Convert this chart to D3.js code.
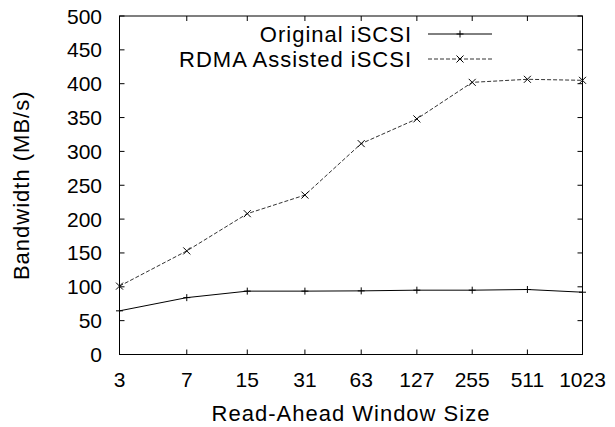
<!DOCTYPE html>
<html><head><meta charset="utf-8">
<script src="https://cdn.jsdelivr.net/npm/d3@7"></script>
<style>body{margin:0;background:#fff}text{font-family:"Liberation Sans",Arial,sans-serif;fill:#000}.w{letter-spacing:1px}</style>
</head><body>
<svg id="c" width="615" height="427"></svg>
<script>
const windowSizes = [3, 7, 15, 31, 63, 127, 255, 511, 1023];
const originalISCSI = [64.5, 84, 93.6, 93.6, 94, 95, 95, 96, 92];
const rdmaISCSI = [101, 153, 208, 235.5, 311.5, 348, 402, 406.5, 405];
const yTicks = [0, 50, 100, 150, 200, 250, 300, 350, 400, 450, 500];
const seriesNames = ["Original iSCSI", "RDMA Assisted iSCSI"];

const W = 615, H = 427;
const m = {left: 119.5, right: 32.5, top: 16, bottom: 72.5};
const svg = d3.select("#c");
const x = d3.scaleLog().domain([3, 1023]).range([m.left, W - m.right]);
const y = d3.scaleLinear().domain([0, 500]).range([H - m.bottom, m.top]);
const fs = 21, fw = 22, tl = 5;

const g = svg.append("g");
g.append("rect").attr("x", x.range()[0]).attr("y", y.range()[1])
  .attr("width", x.range()[1] - x.range()[0]).attr("height", y.range()[0] - y.range()[1])
  .attr("fill", "none").attr("stroke", "#000").attr("stroke-width", 1);

windowSizes.forEach(v => {
  const px = x(v);
  g.append("line").attr("x1", px).attr("x2", px).attr("y1", y(0)).attr("y2", y(0) - tl).attr("stroke", "#000");
  g.append("line").attr("x1", px).attr("x2", px).attr("y1", y(500)).attr("y2", y(500) + tl).attr("stroke", "#000");
  g.append("text").attr("x", px).attr("y", 387).attr("text-anchor", "middle").attr("font-size", fs).text(v);
});
yTicks.forEach(v => {
  const py = y(v);
  g.append("line").attr("x1", x(3)).attr("x2", x(3) + tl).attr("y1", py).attr("y2", py).attr("stroke", "#000");
  g.append("line").attr("x1", x(1023)).attr("x2", x(1023) - tl).attr("y1", py).attr("y2", py).attr("stroke", "#000");
  g.append("text").attr("x", 102).attr("y", py + 7.5).attr("text-anchor", "end").attr("font-size", fs).text(v);
});
g.append("text").attr("class", "w").attr("x", (x.range()[0] + x.range()[1]) / 2).attr("y", 421)
  .attr("text-anchor", "middle").attr("font-size", fw).text("Read-Ahead Window Size");
g.append("text").attr("class", "w").attr("transform", `translate(29,${(y.range()[0] + y.range()[1]) / 2}) rotate(-90)`)
  .attr("text-anchor", "middle").attr("font-size", fw).text("Bandwidth (MB/s)");

const line = d3.line().x(d => x(d[0])).y(d => y(d[1]));
const d1 = windowSizes.map((w, i) => [w, originalISCSI[i]]);
const d2 = windowSizes.map((w, i) => [w, rdmaISCSI[i]]);
const ms = 3.5;
function plus(sel, px, py, col) {
  sel.append("path").attr("d", `M${px - ms},${py}H${px + ms}M${px},${py - ms}V${py + ms}`).attr("stroke", col).attr("fill", "none");
}
function cross(sel, px, py, col) {
  sel.append("path").attr("d", `M${px - ms},${py - ms}L${px + ms},${py + ms}M${px - ms},${py + ms}L${px + ms},${py - ms}`).attr("stroke", col).attr("fill", "none");
}
g.append("path").datum(d1).attr("d", line).attr("fill", "none").attr("stroke", "#000").attr("stroke-width", 1);
d1.forEach(d => plus(g, x(d[0]), y(d[1]), "#000"));
g.append("path").datum(d2).attr("d", line).attr("fill", "none").attr("stroke", "#333").attr("stroke-width", 1).attr("stroke-dasharray", "4,2");
d2.forEach(d => cross(g, x(d[0]), y(d[1]), "#000"));

const legRows = [34, 59];
const lx1 = 428, lx2 = 492;
seriesNames.forEach((n, i) => {
  const ly = legRows[i];
  g.append("text").attr("class", "w").attr("x", 412).attr("y", ly + 8).attr("text-anchor", "end").attr("font-size", fw).text(n);
  const l = g.append("line").attr("x1", lx1).attr("x2", lx2).attr("y1", ly).attr("y2", ly).attr("stroke", i ? "#333" : "#000");
  if (i) l.attr("stroke-dasharray", "4,2");
  (i ? cross : plus)(g, (lx1 + lx2) / 2, ly, "#000");
});
</script>
</body></html>
